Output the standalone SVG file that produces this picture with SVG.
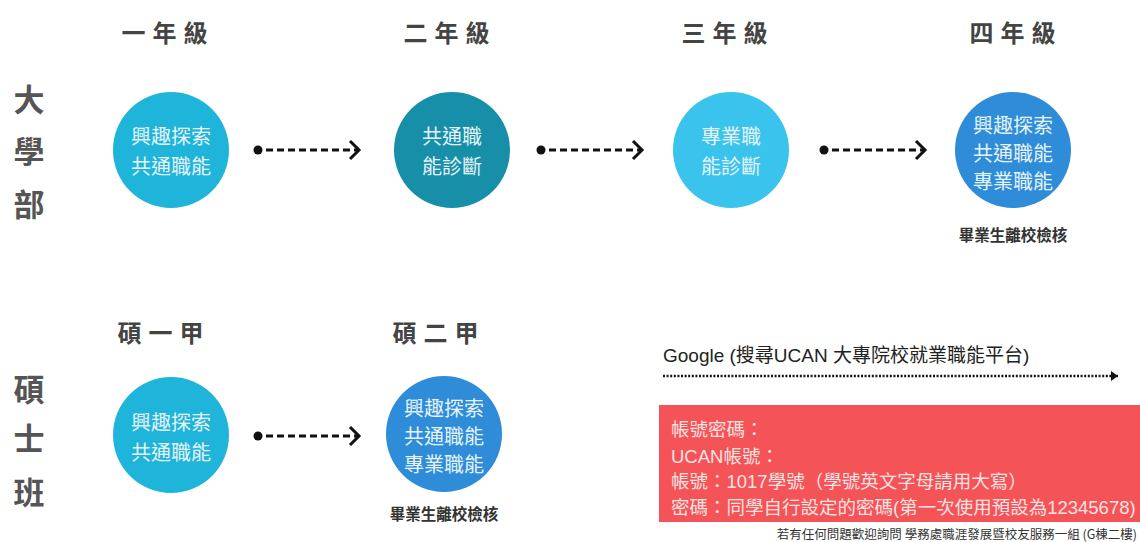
<svg xmlns="http://www.w3.org/2000/svg" width="1140" height="542" viewBox="0 0 1140 542">
<style>
text{font-family:"Noto Sans CJK TC","Liberation Sans",sans-serif;}
.hdr{font-size:24px;font-weight:bold;fill:#444;letter-spacing:7px;text-anchor:middle;dominant-baseline:central;}
.side{font-size:31px;font-weight:bold;fill:#555;text-anchor:middle;dominant-baseline:central;}
.ct{font-size:20px;fill:#e6f4f9;text-anchor:middle;dominant-baseline:central;}
.note{font-size:15.5px;font-weight:bold;fill:#333;text-anchor:middle;dominant-baseline:central;}
.dash{fill:none;stroke:#111;stroke-width:3;stroke-dasharray:7 4;}
.rt{font-size:18.5px;fill:#fde2e2;dominant-baseline:central;font-family:"Liberation Sans","Noto Sans CJK TC",sans-serif;}
</style>
<defs>
<marker id="chev" viewBox="-12 -12 14 24" refX="0" refY="0" markerWidth="14" markerHeight="24" markerUnits="userSpaceOnUse" orient="auto" overflow="visible">
<polyline points="-9,-9 0,0 -9,9" fill="none" stroke="#111" stroke-width="3"/>
</marker>
<marker id="tri" viewBox="-8 -6 10 12" refX="0" refY="0" markerWidth="10" markerHeight="12" markerUnits="userSpaceOnUse" orient="auto" overflow="visible">
<polygon points="-7,-5 0,0 -7,5" fill="#111"/>
</marker>
</defs>
<rect width="1140" height="542" fill="#fff"/>

<g id="headers">
<text class="hdr" x="168" y="31">一年級</text>
<text class="hdr" x="450" y="31">二年級</text>
<text class="hdr" x="728" y="31">三年級</text>
<text class="hdr" x="1016" y="31">四年級</text>
<text class="hdr" x="164" y="331">碩一甲</text>
<text class="hdr" x="439" y="331">碩二甲</text>
</g>

<g id="side-labels">
<text class="side" x="29" y="97">大</text>
<text class="side" x="29" y="149">學</text>
<text class="side" x="29" y="202">部</text>
<text class="side" x="29" y="387">碩</text>
<text class="side" x="29" y="436">士</text>
<text class="side" x="29" y="490">班</text>
</g>

<g id="connectors">
<circle cx="258" cy="150" r="4.5" fill="#111"/>
<path class="dash" d="M266,150 H359" marker-end="url(#chev)"/>
<circle cx="541" cy="150" r="4.5" fill="#111"/>
<path class="dash" d="M549,150 H642" marker-end="url(#chev)"/>
<circle cx="824" cy="150" r="4.5" fill="#111"/>
<path class="dash" d="M832,150 H925" marker-end="url(#chev)"/>
<circle cx="258" cy="436" r="4.5" fill="#111"/>
<path class="dash" d="M266,436 H359" marker-end="url(#chev)"/>
<path d="M663,376 H1118" fill="none" stroke="#111" stroke-width="2.5" stroke-dasharray="2 1.6" marker-end="url(#tri)"/>
</g>

<g id="n-y1">
<circle cx="171" cy="150" r="58" fill="#1fb4da"/>
<text class="ct" x="171" y="135">興趣探索</text>
<text class="ct" x="171" y="165">共通職能</text>
</g>
<g id="n-y2">
<circle cx="452" cy="150" r="58" fill="#178fa9"/>
<text class="ct" x="452" y="135">共通職</text>
<text class="ct" x="452" y="165">能診斷</text>
</g>
<g id="n-y3">
<circle cx="731" cy="150" r="58" fill="#3ac3ed"/>
<text class="ct" x="731" y="135">專業職</text>
<text class="ct" x="731" y="165">能診斷</text>
</g>
<g id="n-y4">
<circle cx="1013" cy="150" r="58" fill="#2e8cd9"/>
<text class="ct" x="1013" y="124">興趣探索</text>
<text class="ct" x="1013" y="152">共通職能</text>
<text class="ct" x="1013" y="180">專業職能</text>
<text class="note" x="1013" y="234">畢業生離校檢核</text>
</g>
<g id="n-m1">
<circle cx="171" cy="435" r="58" fill="#1fb4da"/>
<text class="ct" x="171" y="421">興趣探索</text>
<text class="ct" x="171" y="451">共通職能</text>
</g>
<g id="n-m2">
<circle cx="444" cy="434" r="58" fill="#2e8cd9"/>
<text class="ct" x="444" y="407">興趣探索</text>
<text class="ct" x="444" y="435">共通職能</text>
<text class="ct" x="444" y="463">專業職能</text>
<text class="note" x="444" y="513">畢業生離校檢核</text>
</g>

<g id="google">
<text x="663" y="355" font-size="19" fill="#222" dominant-baseline="central" style="font-family:'Liberation Sans','Noto Sans CJK TC',sans-serif">Google (搜尋UCAN 大專院校就業職能平台)</text>
</g>

<g id="account-box">
<rect x="659" y="405" width="481" height="117" fill="#f45457"/>
<text class="rt" x="671" y="429">帳號密碼：</text>
<text class="rt" x="671" y="456">UCAN帳號：</text>
<text class="rt" x="671" y="481">帳號：1017學號（學號英文字母請用大寫）</text>
<text class="rt" x="671" y="507">密碼：同學自行設定的密碼(第一次使用預設為12345678)</text>
</g>

<g id="footer">
<text x="1137" y="533" font-size="12.5" fill="#333" text-anchor="end" dominant-baseline="central">若有任何問題歡迎詢問  學務處職涯發展暨校友服務一組 (G棟二樓)</text>
</g>
</svg>
